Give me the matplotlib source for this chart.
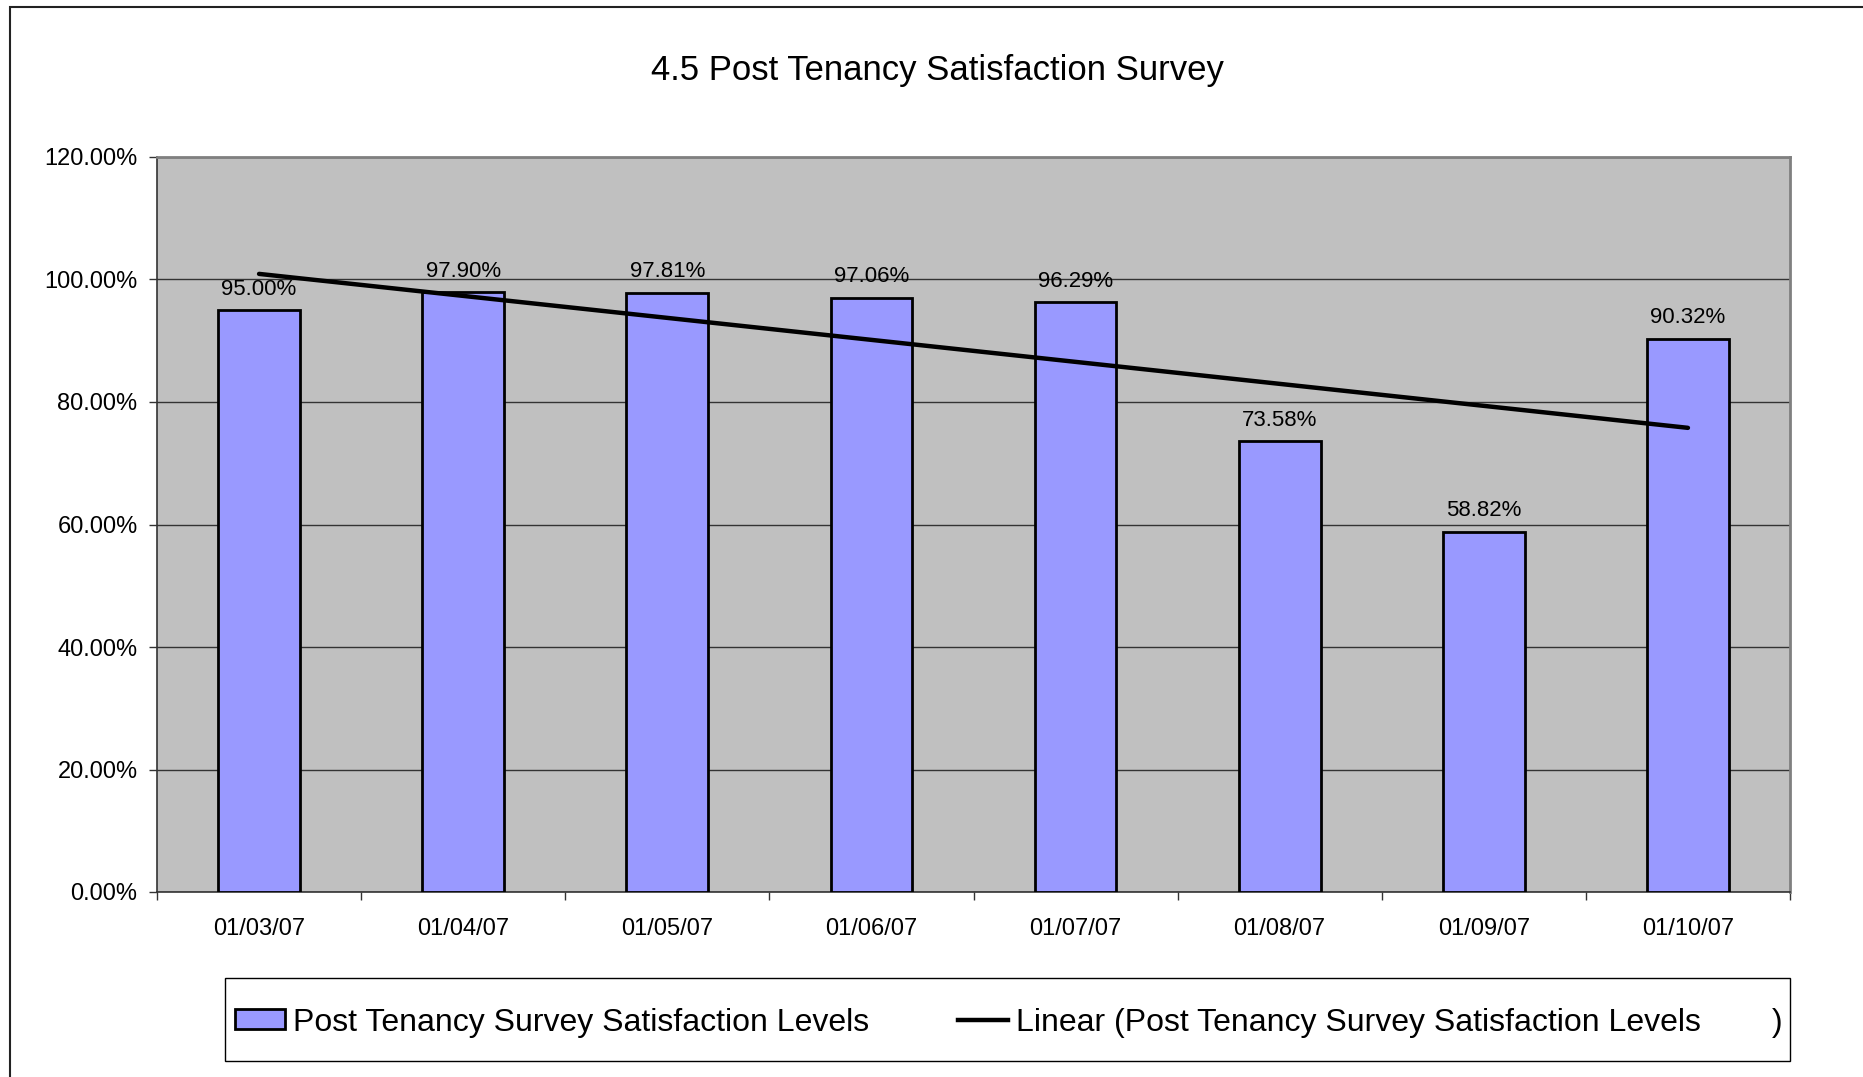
import matplotlib
matplotlib.use("Agg")
import matplotlib.pyplot as plt
from matplotlib.patches import Rectangle
from matplotlib.lines import Line2D
from matplotlib.ticker import FixedLocator, FuncFormatter
import numpy as np

plt.rcParams['font.family'] = ['Liberation Sans', 'DejaVu Sans']

# data
months = ["01/03/07", "01/04/07", "01/05/07", "01/06/07",
          "01/07/07", "01/08/07", "01/09/07", "01/10/07"]
satisfaction = [95.00, 97.90, 97.81, 97.06, 96.29, 73.58, 58.82, 90.32]
y_ticks = [0, 20, 40, 60, 80, 100, 120]

title = "4.5 Post Tenancy Satisfaction Survey"
bar_label = "Post Tenancy Survey Satisfaction Levels"
trend_label = "Linear (Post Tenancy Survey Satisfaction Levels        )"

W, H = 1863, 1077
fig = plt.figure(figsize=(W / 100, H / 100), dpi=100)

# outer chart frame (only top/left visible in the reference)
fig.patches.append(Rectangle((10 / W, -0.2), 1.5, 1.2 - 7 / H, transform=fig.transFigure,
                             fill=False, ec="#222222", lw=1.5, zorder=0))

ax = fig.add_axes([157 / W, 1 - 892 / H, (1790 - 157) / W, (892 - 157) / H])
ax.set_facecolor("#C0C0C0")

x = np.arange(len(months))
ax.bar(x, satisfaction, width=0.4, color="#9999FF", edgecolor="black", linewidth=2, zorder=3)

# linear trend line, like the spreadsheet's trendline
slope, intercept = np.polyfit(x, satisfaction, 1)
ax.plot([x[0], x[-1]], [intercept + slope * x[0], intercept + slope * x[-1]],
        color="black", lw=3.2, solid_capstyle="round", zorder=4)

for xi, v in zip(x, satisfaction):
    ax.annotate(f"{v:.2f}%", (xi, v), xytext=(0, 7.5), textcoords="offset points",
                ha="center", va="bottom", fontsize=16, zorder=5)

ax.set_xlim(-0.5, len(months) - 0.5)
ax.set_ylim(0, 120)
ax.yaxis.set_major_locator(FixedLocator(y_ticks))
ax.yaxis.set_major_formatter(FuncFormatter(lambda v, p: f"{v:.2f}%"))
ax.set_xticks(x)
ax.set_xticklabels(months)
ax.set_xticks(np.arange(-0.5, len(months)), minor=True)
ax.tick_params(axis="x", which="major", length=0, pad=19, labelsize=17)
ax.tick_params(axis="x", which="minor", length=6, width=1, direction="out", color="#333333")
ax.tick_params(axis="y", length=6, width=1, direction="out", pad=8, labelsize=17, color="#333333")

ax.grid(axis="y", color="#333333", lw=1.0, zorder=1)
ax.set_axisbelow(True)

for side in ["top", "right"]:
    ax.spines[side].set_color("#808080")
    ax.spines[side].set_linewidth(2)
for side in ["left", "bottom"]:
    ax.spines[side].set_color("#333333")
    ax.spines[side].set_linewidth(1.2)

fig.text(0.503, 1 - 70 / H, title, ha="center", va="center", fontsize=25)

# legend box
fig.patches.append(Rectangle((225 / W, 1 - 1061 / H), (1790 - 225) / W, 83 / H,
                             transform=fig.transFigure, fill=False, ec="black", lw=1))
handles = [Rectangle((0, 0), 1, 1, fc="#9999FF", ec="black", lw=2),
           Line2D([0], [0], color="black", lw=3.2)]
fig.legend(handles, [bar_label, trend_label], loc="center left",
           bbox_to_anchor=(229 / W, 1 - 1022.5 / H), ncol=2, frameon=False,
           fontsize=23, handlelength=1.55, handleheight=0.6, handletextpad=0.25,
           columnspacing=2.8, borderpad=0.2, borderaxespad=0)

fig.savefig("out.png", dpi=100)
